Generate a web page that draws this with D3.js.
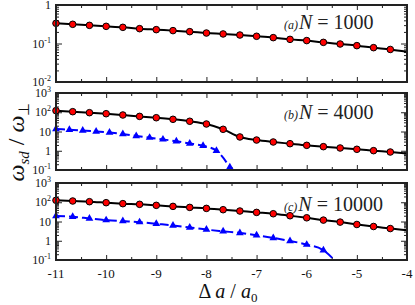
<!DOCTYPE html>
<html>
<head>
<meta charset="utf-8">
<script src="https://cdn.jsdelivr.net/npm/d3@7"></script>
<style>
  body { margin: 0; background: #fff; }
</style>
</head>
<body>
<svg width="415" height="305"></svg>
<script>
// marker grid (every 1/3) plus the line end at -4
var xGrid = [-11, -10.667, -10.333, -10, -9.667, -9.333, -9, -8.667, -8.333, -8, -7.667,
             -7.333, -7, -6.667, -6.333, -6, -5.667, -5.333, -5, -4.667, -4.333, -4];

// black curves (last value = line end, no marker)
var blackA = [0.334, 0.315, 0.296, 0.279, 0.263, 0.243, 0.229, 0.216, 0.203, 0.187, 0.177,
              0.166, 0.154, 0.142, 0.128, 0.119, 0.107, 0.097, 0.088, 0.078, 0.070, 0.061];
var blackB = [121, 107, 95, 84, 72, 61, 52, 43, 34, 24.5, 13,
              5.2, 3.6, 2.85, 2.33, 1.91, 1.63, 1.39, 1.19, 1.01, 0.86, 0.73];
var blackC = [126, 116, 107, 95, 84.5, 78, 69, 61, 54, 48, 41,
              35, 29.7, 25.3, 19.9, 15.6, 11.8, 9.3, 7.0, 5.5, 4.3, 3.5];

// blue dashed curves
var blueBx = [-11, -10.733, -10.467, -10.2, -9.933, -9.667, -9.4, -9.133, -8.867, -8.6, -8.333, -8.067, -7.8, -7.533];
var blueBy = [13.5, 12.3, 11.2, 10.1, 8.8, 7.4, 5.9, 4.8, 3.9, 3.1, 2.4, 1.8, 1.0, 0.14];
var blueCx = [-11, -10.667, -10.333, -10, -9.667, -9.333, -9, -8.667, -8.333, -8, -7.667,
              -7.333, -7, -6.667, -6.333, -6, -5.667, -5.45];
var blueCy = [19.1, 17.6, 14.4, 11.8, 10.5, 9.3, 7.6, 6.2, 4.9, 3.8, 3.1,
              2.56, 1.93, 1.40, 0.98, 0.63, 0.32, 0.1];

var xTicks = [-11, -10, -9, -8, -7, -6, -5, -4];
var xMinor = [-10.5, -9.5, -8.5, -7.5, -6.5, -5.5, -4.5];

var panels = [
  {top: 5, bottom: 82, domain: [0.01, 1], black: blackA, blue: null, tag: "(a)", n: "1000", ty: 29},
  {top: 93, bottom: 170, domain: [0.1, 1000], black: blackB, blue: [blueBx, blueBy], blueEnd: true, tag: "(b)", n: "4000", ty: 119},
  {top: 183, bottom: 260, domain: [0.1, 1000], black: blackC, blue: [blueCx, blueCy], blueEnd: false, tag: "(c)", n: "10000", ty: 211}
];

var serif = "'Liberation Serif'";
var svg = d3.select("svg").style("font-family", serif);
var left = 56, right = 407;
var x = d3.scaleLinear().domain([-11, -4]).range([left, right]);

panels.forEach(function (p) {
  var y = d3.scaleLog().domain(p.domain).range([p.bottom, p.top]);
  var g = svg.append("g");
  var lo = Math.log10(p.domain[0]), hi = Math.log10(p.domain[1]);
  var majors = [], minors = [];
  for (var e = lo; e <= hi; e++) {
    majors.push(Math.pow(10, e));
    if (e < hi) for (var k = 2; k < 10; k++) minors.push(k * Math.pow(10, e));
  }

  // ticks (inside, all four sides)
  function tick(axis, vals, size, tr) {
    g.append("g").attr("transform", tr)
      .call(axis.tickValues(vals).tickSize(-size).tickFormat(""))
      .call(function (s) { s.select(".domain").remove(); s.selectAll("line").attr("stroke", "#222").attr("stroke-width", 1); });
  }
  tick(d3.axisLeft(y), majors, 6, "translate(" + left + ",0)");
  tick(d3.axisLeft(y), minors, 3, "translate(" + left + ",0)");
  tick(d3.axisRight(y), majors, 6, "translate(" + right + ",0)");
  tick(d3.axisRight(y), minors, 3, "translate(" + right + ",0)");
  tick(d3.axisBottom(x), xTicks, 5, "translate(0," + p.bottom + ")");
  tick(d3.axisBottom(x), xMinor, 3, "translate(0," + p.bottom + ")");
  tick(d3.axisTop(x), xTicks, 5, "translate(0," + p.top + ")");
  tick(d3.axisTop(x), xMinor, 3, "translate(0," + p.top + ")");

  // y tick labels
  majors.forEach(function (v) {
    var e = Math.round(Math.log10(v));
    var t = g.append("text").attr("x", 51).attr("y", y(v) + 4)
      .attr("text-anchor", "end").style("font-family", serif).style("font-size", "12px").attr("fill", "#111");
    if (e === 0) t.text("1");
    else if (e === 1) t.text("10");
    else {
      t.append("tspan").text("10");
      t.append("tspan").attr("dy", -5).style("font-size", "8px").text(e);
    }
  });

  var line = d3.line().curve(d3.curveMonotoneX)
    .x(function (d) { return x(d[0]); }).y(function (d) { return y(d[1]); });

  if (p.blue) {
    var bd = p.blue[0].map(function (v, i) { return [v, p.blue[1][i]]; });
    g.append("path").datum(bd).attr("d", line)
      .attr("fill", "none").attr("stroke", "#0000ff").attr("stroke-width", 2)
      .attr("stroke-dasharray", "9,4");
    var tri = d3.symbol().type(d3.symbolTriangle).size(26);
    var bm = p.blueEnd ? bd : bd.slice(0, -1);
    g.selectAll(".tri").data(bm).enter().append("path")
      .attr("d", tri)
      .attr("transform", function (d) { return "translate(" + x(d[0]) + "," + y(d[1]) + ")"; })
      .attr("fill", "#0000ff");
  }

  var kd = xGrid.map(function (v, i) { return [v, p.black[i]]; });
  g.append("path").datum(kd).attr("d", line)
    .attr("fill", "none").attr("stroke", "#000").attr("stroke-width", 2);
  g.selectAll(".dot").data(kd.slice(0, -1)).enter().append("circle")
    .attr("cx", function (d) { return x(d[0]); })
    .attr("cy", function (d) { return y(d[1]); })
    .attr("r", 3.3).attr("fill", "#ff0000").attr("stroke", "#000").attr("stroke-width", 1);

  // frame
  g.append("rect").attr("x", left).attr("y", p.top)
    .attr("width", right - left).attr("height", p.bottom - p.top)
    .attr("fill", "none").attr("stroke", "#222").attr("stroke-width", 2);

  // annotation
  var a = g.append("text").attr("x", 284).attr("y", p.ty)
    .style("font-family", serif).style("font-size", "20px").attr("fill", "#222");
  a.append("tspan").style("font-size", "12px").style("font-style", "italic").text(p.tag);
  a.append("tspan").attr("dx", 1).style("font-style", "italic").text("N");
  a.append("tspan").text(" = " + p.n);
});

// x tick labels under last panel
xTicks.forEach(function (v) {
  svg.append("text").attr("x", x(v)).attr("y", 278).attr("text-anchor", "middle")
    .style("font-family", serif).style("font-size", "13px").attr("fill", "#111").text(v);
});

// axis titles
var xt = svg.append("text").attr("x", 228).attr("y", 298).attr("text-anchor", "middle")
  .style("font-family", serif).style("font-size", "20px").attr("fill", "#111");
xt.append("tspan").text("\u0394 ");
xt.append("tspan").style("font-style", "italic").text("a");
xt.append("tspan").text(" / ");
xt.append("tspan").style("font-style", "italic").text("a");
xt.append("tspan").attr("dy", 4).style("font-size", "13px").text("0");

var yt = svg.append("text").attr("transform", "translate(24,142) rotate(-90)")
  .attr("text-anchor", "middle").style("font-family", serif).style("font-size", "24px").attr("fill", "#111");
yt.append("tspan").style("font-style", "italic").text("\u03c9");
yt.append("tspan").attr("dy", 5).style("font-size", "15px").style("font-style", "italic").text("sd");
yt.append("tspan").attr("dy", -5).text(" / ");
yt.append("tspan").style("font-style", "italic").text("\u03c9");
yt.append("tspan").attr("dy", 5).style("font-size", "15px").text("\u22a5");
</script>
</body>
</html>
